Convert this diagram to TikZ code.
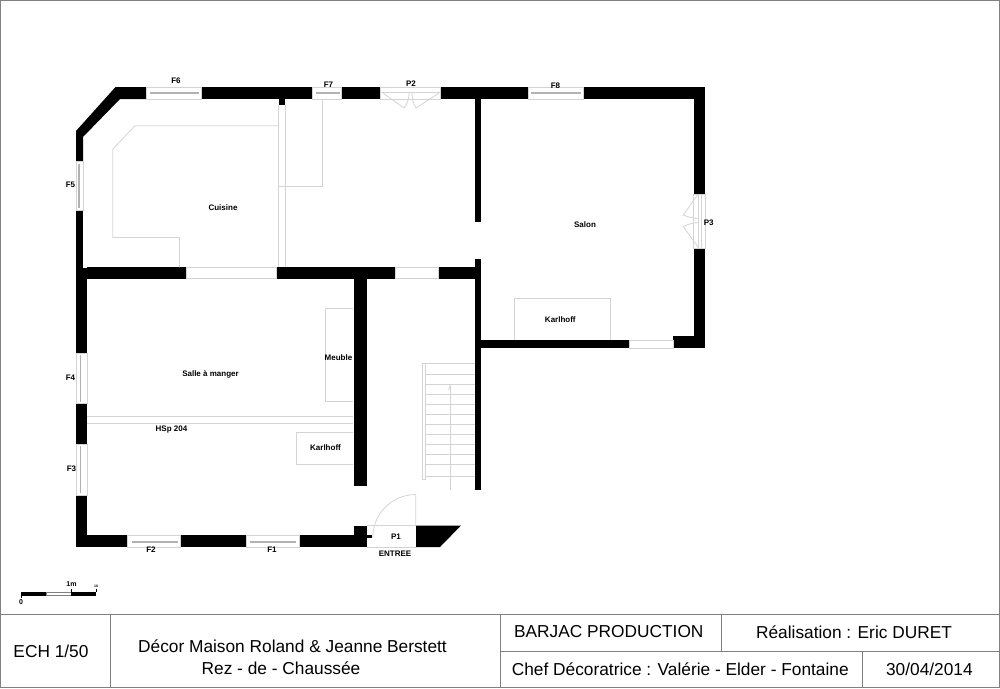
\documentclass[tikz,border=0pt]{standalone}
\usepackage{fontspec}
\setmainfont{Liberation Sans}
\usetikzlibrary{positioning}
\tikzset{
  wall/.style={fill=black, draw=none},
  fixture/.style={draw=black!17, line width=0.8pt},
  pane/.style={draw=black!30, line width=1.5pt},
  frameline/.style={draw=black!50, line width=1pt},
  lbl/.style={font=\bfseries\fontsize{8}{9}\selectfont, inner sep=0pt},
  block/.style={font=\fontsize{17.3}{20}\selectfont, inner sep=0pt}
}
\begin{document}
\begin{tikzpicture}[x=1pt, y=-1pt]
    \useasboundingbox (0,0) rectangle (1000,688);
    \fill[white] (0,0) rectangle (1000,688);

    % outer walls
    \fill[wall] (76,161) -- (76,131) -- (115.5,87) -- (146.7,87) -- (146.7,99) -- (120,99) -- (83,137) -- (83,161) -- cycle;
    \foreach \xa/\xb in {201/312.7, 341.7/380.7, 440.7/528.3, 583.3/705}
      \fill[wall] (\xa,87) rectangle (\xb,99);
    \fill[wall] (693.5,87) rectangle (705,194);
    \fill[wall] (693.5,248) rectangle (705,348);
    \fill[wall] (673.3,336) rectangle (705,348);
    \fill[wall] (481,340) rectangle (629.3,348);
    \fill[wall] (76,210.5) rectangle (83,267.5);
    \fill[wall] (76,267.5) rectangle (87,353.3);
    \fill[wall] (76,403.6) rectangle (87,444);
    \fill[wall] (76,495) rectangle (87,547);
    \foreach \xa/\xb in {76/127.7, 180.7/246.4, 299.4/366.7}
      \fill[wall] (\xa,535.4) rectangle (\xb,547);
    \fill[wall] (353.8,525.7) rectangle (366.7,547);
    \fill[wall] (366,535) rectangle (372,538.3);
    \fill[wall] (416.2,525.7) -- (460.8,525.7) -- (440,547) -- (416.2,547) -- cycle;

    % inner walls
    \foreach \xa/\xb in {87/186, 276/395, 438.7/475}
      \fill[wall] (\xa,267.4) rectangle (\xb,278.5);
    \fill[wall] (353.8,278) rectangle (366.7,486);
    \fill[wall] (475,99) rectangle (480.8,222.3);
    \fill[wall] (475,259.3) rectangle (480.8,489.5);
    \fill[wall] (278.7,99) rectangle (285.3,105);

    % windows
    \foreach \xa/\xb in {146.7/201, 312.7/341.7, 528.3/583.3} {
      \draw[fixture] (\xa,87) rectangle (\xb,99);
      \draw[pane] (\xa+3,93) -- (\xb-2,93);
    }
    \foreach \xa/\xb in {127.7/180.7, 246.4/299.4} {
      \draw[fixture] (\xa,535.4) rectangle (\xb,547);
      \draw[pane] (\xa+4,542) -- (\xb-3,542);
    }
    \draw[fixture] (76,161) rectangle (83,210.5);
    \draw[pane] (79,164) -- (79,208);
    \foreach \ya/\yb in {353.3/403.6, 444/495} {
      \draw[fixture] (76,\ya) rectangle (87,\yb);
      \draw[pane] (80.7,\ya+2) -- (80.7,\yb-2);
    }
    \draw[fixture] (186,267.4) rectangle (276,278.5);
    \draw[fixture] (395,267.4) rectangle (438.7,278.5);
    \draw[fixture] (629.3,340) rectangle (673.3,348);

    % doors
    \draw[fixture] (380.7,87) rectangle (440.7,99);
    \draw[fixture] (381,92.5) -- (440,92.5);
    \draw[fixture] (383,93) -- (404,108) .. controls (408,103) and (409,98) .. (409,93);
    \draw[fixture] (439,93) -- (416,108) .. controls (413,103) and (412,98) .. (412,93);
    \draw[fixture] (693.5,194) rectangle (705,248);
    \draw[fixture] (698.3,194) -- (698.3,248);
    \draw[fixture] (701.7,194) -- (701.7,248);
    \draw[fixture] (698.3,194) -- (683.3,215) .. controls (688,217) and (693,218.3) .. (698.3,218.3);
    \draw[fixture] (698.3,247.3) -- (683.3,226.7) .. controls (688,224) and (693,222.7) .. (698.3,222.7);
    \draw[fixture] (366.7,525.7) -- (416.2,525.7);
    \draw[fixture] (366.7,547) -- (416.2,547);
    \draw[fixture] (415.8,525.7) -- (415.8,494.5) arc[start angle=-90, end angle=-180, radius=43];

    % cuisine
    \draw[fixture] (278.7,125.7) -- (135,125.7) -- (112.7,149.3) -- (112.7,237.5) -- (179.5,237.5) -- (179.5,267.4);
    \draw[fixture] (278.7,105) -- (278.7,267.4);
    \draw[fixture] (285.3,105) -- (285.3,267.4);
    \draw[fixture] (322,99) -- (322,186.7) -- (278.7,186.7);

    % furniture
    \draw[fixture] (352.5,308.7) -- (325.3,308.7) -- (325.3,401.7) -- (352.5,401.7);
    \draw[fixture] (352.5,432.7) -- (296.3,432.7) -- (296.3,464.3) -- (352.5,464.3);
    \draw[fixture] (87,416.7) -- (352.5,416.7);
    \draw[fixture] (87,423) -- (352.5,423);
    \draw[fixture] (514.7,340) -- (514.7,298.3) -- (610,298.3) -- (610,340);

    % stairs
    \draw[fixture] (475,363.7) -- (422.4,363.7) -- (422.4,479.3) -- (425.4,479.3) -- (425.4,363.7);
    \foreach \ya in {374,384,394,404,414,424,434,444,454,464,476.7}
      \draw[fixture] (425.4,\ya) -- (475,\ya);
    \draw[fixture] (450.6,384) -- (450.6,490);
    \draw[fixture] (448.5,390) -- (450.6,385);

    % labels
    \node [lbl] (f1) at (272 , 550) {F1};
    \node [lbl] (f2) at (151 , 550) {F2};
    \node [lbl] (f3) at (71.5 , 469) {F3};
    \node [lbl] (f4) at (70.5 , 377.5) {F4};
    \node [lbl] (f5) at (70.5 , 185) {F5};
    \node [lbl] (f6) at (176 , 80.7) {F6};
    \node [lbl] (f7) at (328.5 , 84.5) {F7};
    \node [lbl] (f8) at (555.5 , 85.7) {F8};
    \node [lbl] (p1) at (396 , 536.5) {P1};
    \node [lbl] (p2) at (411 , 84) {P2};
    \node [lbl] (p3) at (708.7 , 222.3) {P3};
    \node [lbl] (entree) at (395 , 553.7) {ENTREE};
    \node [lbl] (cuisine) at (223 , 207.5) {Cuisine};
    \node [lbl] (salon) at (585 , 224.7) {Salon};
    \node [lbl] (salle) at (210.5 , 374.5) {Salle à manger};
    \node [lbl] (hsp) at (171.5 , 429.5) {HSp 204};
    \node [lbl] (meuble) at (338.5 , 358) {Meuble};
    \node [lbl] (karlhoffa) at (325.5 , 448) {Karlhoff};
    \node [lbl] (karlhoffb) at (560.3 , 319.3) {Karlhoff};

    % scale
    \fill[wall] (21,592) rectangle (46.5,596);
    \draw[black!50, line width=0.8pt] (46.5,592.4) rectangle (71,595.6);
    \fill[wall] (71,592) rectangle (96,596);
    \draw[black, line width=0.6pt] (21,592) -- (21,598);
    \draw[black, line width=0.6pt] (71,589) -- (71,592);
    \draw[black, line width=0.6pt] (96,588.5) -- (96,592);
    \node [lbl, font=\bfseries\fontsize{7}{8}\selectfont] (zero) at (21 , 602.5) {0};
    \node [lbl, font=\bfseries\fontsize{7}{8}\selectfont] (onem) at (71.5 , 584) {1m};
    \node [lbl, font=\bfseries\fontsize{3.5}{4}\selectfont] (twom) at (96 , 586.5) {10};

    % title block
    \draw[frameline] (0.5,688) -- (0.5,0.5) -- (999.5,0.5) -- (999.5,688);
    \draw[frameline] (0,687.5) -- (1000,687.5);
    \draw[frameline] (0,614.7) -- (1000,614.7);
    \draw[frameline] (110,614.7) -- (110,688);
    \draw[frameline] (500,614.7) -- (500,688);
    \draw[frameline] (500,651.7) -- (1000,651.7);
    \draw[frameline] (721.7,614.7) -- (721.7,651.7);
    \draw[frameline] (862.3,651.7) -- (862.3,688);
    \node [block] (ech) at (51 , 651) {ECH 1/50};
    \node [block] (decor) at (292.5 , 646.7) {Décor Maison Roland \& Jeanne Berstett};
    \node [block] (rez) at (281 , 668.3) {Rez - de - Chaussée};
    \node [block] (barjac) at (608.8 , 632) {BARJAC PRODUCTION};
    \node [block] (real) at (854 , 632) {Réalisation : Eric DURET};
    \node [block] (chef) at (680.3 , 669) {Chef Décoratrice : Valérie - Elder - Fontaine};
    \node [block] (date) at (929.4 , 669) {30/04/2014};
\end{tikzpicture}
\end{document}
